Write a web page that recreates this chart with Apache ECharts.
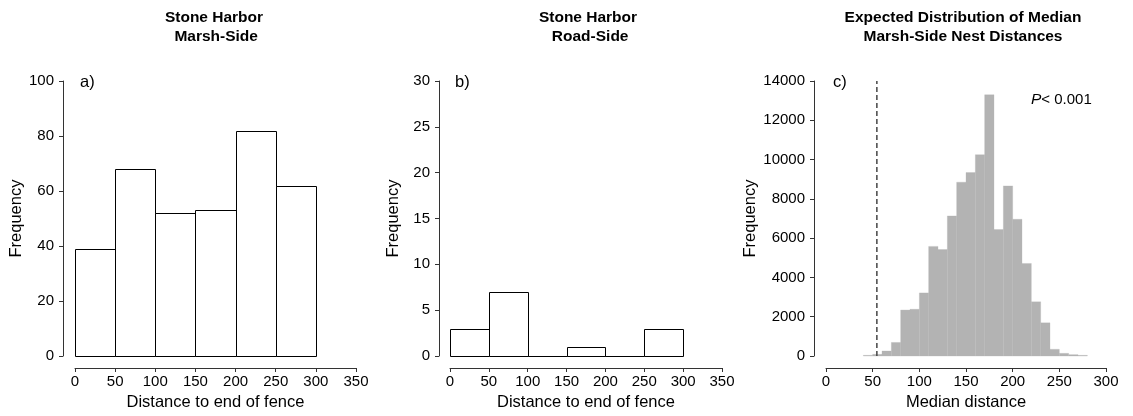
<!DOCTYPE html>
<html>
<head>
<meta charset="utf-8">
<script src="https://cdn.jsdelivr.net/npm/echarts@6/dist/echarts.min.js"></script>
<style>
html,body{margin:0;padding:0;background:#fff;}
#chart{width:1133px;height:416px;}
</style>
</head>
<body>
<div id="chart"></div>
<script>
// ---- data ----
const titleA = 'Stone Harbor\n Marsh-Side';
const titleB = 'Stone Harbor\n Road-Side';
const titleC = 'Expected Distribution of Median\nMarsh-Side Nest Distances';
const edgesA = [0, 50, 100, 150, 200, 250, 300];
const countsA = [39, 68, 52, 53, 82, 62];
const edgesB = [0, 50, 100, 150, 200, 250, 300];
const countsB = [3, 7, 0, 1, 0, 3];
const edgesC = [40, 50, 60, 70, 80, 90, 100, 110, 120, 130, 140, 150, 160, 170, 180, 190, 200, 210, 220, 230, 240, 250, 260, 270, 280];
const countsC = [34, 85, 255, 690, 2340, 2380, 3210, 5580, 5420, 7130, 8850, 9340, 10250, 13300, 6440, 8660, 6960, 4710, 2760, 1690, 340, 136, 68, 34];
const observedMedian = 54.5;
const xTitleAB = 'Distance to end of fence';
const xTitleC = 'Median distance';
const yTitle = 'Frequency';
const panelLabels = ['a)', 'b)', 'c)'];
const pText = ['P', '< 0.001'];

function bins(edges, counts) {
  return counts.map((c, i) => [edges[i], edges[i + 1], c]);
}

const FONT = '"Liberation Sans", Arial, sans-serif';
const AXC = '#333';

function rectRender(fill, stroke) {
  return function (params, api) {
    const p0 = api.coord([api.value(0), api.value(2)]);
    const p1 = api.coord([api.value(1), 0]);
    let x0 = p0[0], x1 = p1[0], y0 = p0[1], y1 = p1[1];
    if (stroke) {
      x0 = Math.round(x0) + 0.5; x1 = Math.round(x1) + 0.5;
      y0 = Math.round(y0) + 0.5; y1 = Math.round(y1) + 0.5;
    }
    return {
      type: 'rect',
      shape: { x: x0, y: y0, width: x1 - x0, height: y1 - y0 },
      style: stroke ? { fill: fill, stroke: stroke, lineWidth: 1 } : { fill: fill, stroke: fill, lineWidth: 0.3 }
    };
  };
}

const grids = [
  { left: 75, top: 81, width: 281, height: 275 },
  { left: 450, top: 81, width: 272, height: 275 },
  { left: 826, top: 81, width: 280, height: 275 }
];

function xAxis(i, max, name) {
  return {
    type: 'value', gridIndex: i, min: 0, max: max, interval: 50,
    offset: 12, position: 'bottom',
    name: name, nameLocation: 'middle', nameGap: 24,
    nameTextStyle: { fontFamily: FONT, fontSize: 16.5, color: '#000' },
    axisLine: { show: true, onZero: false, lineStyle: { color: AXC, width: 1 } },
    axisTick: { show: true, length: 4, lineStyle: { color: AXC } },
    axisLabel: { fontFamily: FONT, fontSize: 15, color: '#000', margin: 6 },
    splitLine: { show: false }
  };
}
function yAxis(i, max, interval, offset, gap) {
  return {
    type: 'value', gridIndex: i, min: 0, max: max, interval: interval,
    offset: offset, position: 'left',
    name: yTitle, nameLocation: 'middle', nameGap: gap,
    nameTextStyle: { fontFamily: FONT, fontSize: 16.5, color: '#000' },
    axisLine: { show: true, onZero: false, lineStyle: { color: AXC, width: 1 } },
    axisTick: { show: true, length: 4, lineStyle: { color: AXC } },
    axisLabel: { fontFamily: FONT, fontSize: 15, color: '#000', margin: 9, formatter: v => String(v) },
    splitLine: { show: false }
  };
}

const titleStyle = { fontFamily: FONT, fontSize: 15.5, fontWeight: 'bold', color: '#000', lineHeight: 19 };

const option = {
  animation: false,
  backgroundColor: '#fff',
  title: [
    { text: titleA, left: 209, top: 3, textAlign: 'center', textStyle: titleStyle },
    { text: titleB, left: 583, top: 3, textAlign: 'center', textStyle: titleStyle },
    { text: titleC, left: 958, top: 3, textAlign: 'center', textStyle: titleStyle }
  ],
  grid: grids,
  xAxis: [xAxis(0, 350, xTitleAB), xAxis(1, 350, xTitleAB), xAxis(2, 300, xTitleC)],
  yAxis: [yAxis(0, 100, 20, 12, 36), yAxis(1, 30, 5, 11, 37), yAxis(2, 14000, 2000, 12, 55)],
  series: [
    { type: 'custom', xAxisIndex: 0, yAxisIndex: 0, encode: { x: [0, 1], y: 2 },
      data: bins(edgesA, countsA), renderItem: rectRender('#fff', '#000') },
    { type: 'custom', xAxisIndex: 1, yAxisIndex: 1, encode: { x: [0, 1], y: 2 },
      data: bins(edgesB, countsB), renderItem: rectRender('#fff', '#000') },
    { type: 'custom', xAxisIndex: 2, yAxisIndex: 2, encode: { x: [0, 1], y: 2 },
      data: bins(edgesC, countsC), renderItem: rectRender('#b3b3b3', null) },
    { type: 'line', xAxisIndex: 2, yAxisIndex: 2, symbol: 'none',
      data: [[observedMedian, 0], [observedMedian, 14000]],
      lineStyle: { color: '#444', width: 1.5, type: [5, 3] } }
  ],
  graphic: [
    { type: 'text', left: 80, top: 74, style: { text: panelLabels[0], font: '16.5px ' + FONT, fill: '#000' } },
    { type: 'text', left: 455, top: 74, style: { text: panelLabels[1], font: '16.5px ' + FONT, fill: '#000' } },
    { type: 'text', left: 833, top: 74, style: { text: panelLabels[2], font: '16.5px ' + FONT, fill: '#000' } },
    { type: 'text', left: 1031, top: 92, style: {
        text: '{i|' + pText[0] + '}{n|' + pText[1] + '}',
        rich: { i: { fontStyle: 'italic', fontSize: 15.5, fontFamily: FONT, fill: '#000' },
                n: { fontSize: 15, fontFamily: FONT, fill: '#000' } } } }
  ]
};

const chart = echarts.init(document.getElementById('chart'), null, { renderer: 'canvas' });
chart.setOption(option);
</script>
</body>
</html>
